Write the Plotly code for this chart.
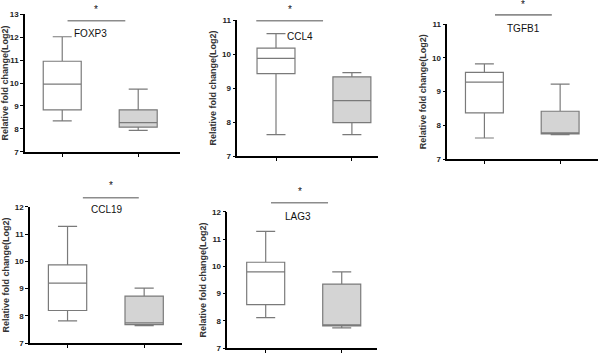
import plotly.graph_objects as go

genes = ["FOXP3", "CCL4", "TGFB1", "CCL19", "LAG3"]
# [min, q1, median, q3, max] for group 1 and group 2
g1_stats = [
    [8.35, 8.83, 9.95, 10.95, 12.02],
    [7.63, 9.42, 9.87, 10.17, 10.60],
    [7.63, 8.37, 9.28, 9.57, 9.82],
    [7.82, 8.20, 9.20, 9.87, 11.28],
    [8.12, 8.60, 9.80, 10.15, 11.28],
]
g2_stats = [
    [7.93, 8.07, 8.27, 8.83, 9.73],
    [7.63, 7.98, 8.63, 9.33, 9.45],
    [7.73, 7.75, 7.75, 8.42, 9.22],
    [7.65, 7.68, 7.75, 8.73, 9.02],
    [7.75, 7.82, 7.85, 9.35, 9.80],
]
y_ranges = [[7, 13], [7, 11], [7, 11], [7, 12], [7, 12]]
y_tickvals = [[7, 8, 9, 10, 11, 12, 13], [7, 8, 9, 10, 11], [7, 8, 9, 10, 11],
              [7, 8, 9, 10, 11, 12], [7, 8, 9, 10, 11, 12]]
sig_y = [12.72, 10.98, 11.27, 12.33, 12.33]
star_y = [13.2, 11.32, 11.58, 12.78, 12.74]
label_y = [12.18, 10.51, 10.87, 11.88, 11.84]
label_x = [0.37, 0.32, 0.52, 0.52, 0.42]
sig_x = [[0.07, 0.83], [-0.26, 0.62], [0.14, 0.89], [0.20, 0.93], [0.07, 0.82]]

# layout boxes in pixels: (left, right, top, bottom) and x ranges
W, H = 600, 354
px_boxes = [(25, 180, 14.3, 151.7), (237.3, 377.7, 20, 156), (447.3, 598, 24, 159.3),
            (30, 181.7, 206.7, 343.3), (227.3, 376.7, 211.7, 348.3)]
x_ranges = [[-0.49, 1.55], [-0.51, 1.34], [-0.49, 1.5], [-0.49, 1.49], [-0.505, 1.46]]

fig = go.Figure()
font = "Liberation Sans, Arial, sans-serif"
for i, g in enumerate(genes):
    ax = "" if i == 0 else str(i + 1)
    xref, yref = "x" + ax, "y" + ax
    for j, (st, fill) in enumerate([(g1_stats[i], "white"), (g2_stats[i], "#d4d4d4")]):
        fig.add_trace(go.Box(
            x=[j], lowerfence=[st[0]], q1=[st[1]], median=[st[2]], q3=[st[3]],
            upperfence=[st[4]], xaxis=xref, yaxis=yref, width=0.5,
            fillcolor=fill, line=dict(color="#7a7a7a", width=1.2),
            whiskerwidth=0.5, boxpoints=False, showlegend=False, hoverinfo="skip"))
    l, r, t, b = px_boxes[i]
    fig.layout["xaxis" + ax] = dict(
        domain=[l / W, r / W], range=x_ranges[i], anchor=yref, automargin=False,
        tickvals=[0, 1], ticktext=["", ""], ticks="outside", ticklen=3,
        tickcolor="black", showline=True, linecolor="black", linewidth=1.6,
        showgrid=False, zeroline=False, fixedrange=True)
    fig.layout["yaxis" + ax] = dict(
        domain=[1 - b / H, 1 - t / H], range=y_ranges[i], anchor=xref, automargin=False,
        tickvals=y_tickvals[i], ticks="outside", ticklen=3, tickcolor="black",
        showline=True, linecolor="black", linewidth=1.6, showgrid=False,
        zeroline=False, tickfont=dict(family=font, size=8, color="#222", weight="bold"),
        title=dict(text="<b>Relative fold change(Log2)</b>", standoff=4,
                   font=dict(family=font, size=9, color="#333")))
    y0, y1 = y_ranges[i]
    x0, x1 = x_ranges[i]
    fy = (sig_y[i] - y0) / (y1 - y0)
    fs = (star_y[i] - y0) / (y1 - y0)
    fl = (label_y[i] - y0) / (y1 - y0)
    fig.add_shape(type="line", xref=xref + " domain", yref=yref + " domain",
                  x0=(sig_x[i][0] - x0) / (x1 - x0), x1=(sig_x[i][1] - x0) / (x1 - x0),
                  y0=fy, y1=fy, line=dict(color="#8c8c8c", width=1.6))
    fig.add_annotation(xref=xref + " domain", yref=yref + " domain",
                       x=((sig_x[i][0] + sig_x[i][1]) / 2 - x0) / (x1 - x0),
                       y=fs, text="*", showarrow=False, xanchor="center", yanchor="middle",
                       font=dict(family=font, size=10, color="#111"))
    fig.add_annotation(xref=xref + " domain", yref=yref + " domain",
                       x=(label_x[i] - x0) / (x1 - x0), y=fl, text=g,
                       showarrow=False, xanchor="center", yanchor="middle",
                       font=dict(family=font, size=10, color="#111"))

fig.update_layout(width=W, height=H, margin=dict(l=0, r=0, t=0, b=0),
                  paper_bgcolor="white", plot_bgcolor="white")
fig.write_html("out.html", config={"displayModeBar": False},
               post_script="document.body.style.margin='0';document.body.style.overflow='hidden';")
